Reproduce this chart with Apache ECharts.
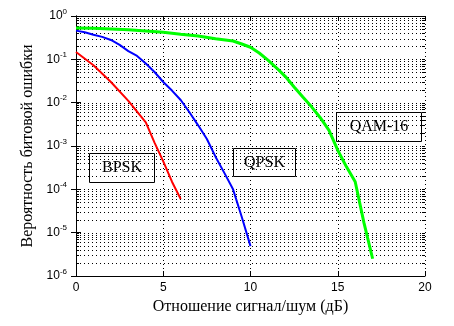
<!DOCTYPE html>
<html>
<head>
<meta charset="utf-8">
<script src="https://cdn.jsdelivr.net/npm/echarts@6/dist/echarts.min.js"></script>
<style>
  html, body { margin: 0; padding: 0; background: #fff; }
  #chart { width: 454px; height: 326px; }
</style>
</head>
<body>
<div id="chart"></div>
<script>
// SNR in dB
const snrBpsk = [0, 1, 2, 3, 4, 4.5, 5, 5.5, 6];
const berBpsk = [0.148, 0.073, 0.03, 0.011, 0.0035, 0.0012, 0.00044, 0.00015, 0.00006];

const snrQpsk = [0, 0.5, 1, 1.5, 2, 2.5, 3, 3.5, 4, 4.5, 5, 5.5, 6, 6.5, 7, 7.5, 8, 8.5, 9, 9.5, 10];
const berQpsk = [0.46, 0.42, 0.37, 0.33, 0.28, 0.215, 0.155, 0.12, 0.08, 0.051, 0.03, 0.019,
  0.0115, 0.006, 0.003, 0.00145, 0.00056, 0.00024, 0.0001, 0.000023, 0.0000049];

const snrQam = [0, 1, 2, 3, 4, 5, 6, 7, 8, 9, 9.5, 10, 10.5, 11, 11.5, 12, 12.5, 13, 13.5,
  14, 14.5, 15, 15.5, 16, 16.5, 17];
const berQam = [0.53, 0.52, 0.5, 0.48, 0.45, 0.42, 0.38, 0.345, 0.30, 0.265, 0.226, 0.19, 0.14,
  0.096, 0.063, 0.04, 0.023, 0.0135, 0.008, 0.0045, 0.0023, 0.0008, 0.00033, 0.00015,
  0.000017, 0.0000025];

const xTicks = [0, 5, 10, 15, 20];
const labels = ['BPSK', 'QPSK', 'QAM-16'];

// log grid values k x 10^e
const gridVals = [];
for (let e = -6; e < 0; e++) {
  for (let k = 1; k <= 9; k++) gridVals.push(k * Math.pow(10, e));
}
gridVals.push(1);

const pair = (xs, ys) => xs.map((x, i) => [x, ys[i]]);
const dotted = { color: '#000', width: 1, type: [1, 3] };
const serif = '"Liberation Serif", "DejaVu Serif", serif';
const sans = '"Liberation Sans", Arial, sans-serif';

const chart = echarts.init(document.getElementById('chart'), null, { renderer: 'canvas' });

function boxLabel(text, left, top, w, h) {
  return {
    type: 'group',
    left: left, top: top,
    children: [
      { type: 'rect', shape: { x: 0, y: 0, width: w, height: h },
        style: { fill: '#fff', stroke: '#000', lineWidth: 1 } },
      { type: 'text', x: w / 2, y: h / 2,
        style: { text: text, font: '16px ' + serif, fill: '#000', align: 'center', verticalAlign: 'middle' } }
    ]
  };
}

chart.setOption({
  animation: false,
  grid: { left: 76, right: 29, top: 16, bottom: 50, show: false },
  xAxis: [{
    type: 'value', min: xTicks[0], max: xTicks[xTicks.length - 1], interval: 5,
    name: 'Отношение сигнал/шум (дБ)', nameLocation: 'middle', nameGap: 23,
    nameTextStyle: { fontFamily: serif, fontSize: 16, color: '#000' },
    axisLine: { onZero: false, lineStyle: { color: '#000', width: 1 } },
    axisTick: { inside: true, length: 5, lineStyle: { color: '#000' } },
    axisLabel: { fontFamily: sans, fontSize: 12, color: '#000', margin: 6 },
    splitLine: { show: true, lineStyle: dotted }
  }, {
    type: 'value', position: 'top', min: xTicks[0], max: xTicks[xTicks.length - 1], interval: 5,
    axisLine: { show: true, onZero: false, lineStyle: { color: '#000', width: 1 } },
    axisTick: { inside: true, length: 5, lineStyle: { color: '#000' } },
    axisLabel: { show: false }, splitLine: { show: false }
  }],
  yAxis: [{
    type: 'log', logBase: 10, min: 1e-6, max: 1,
    name: 'Вероятность битовой ошибки', nameLocation: 'middle', nameGap: 33,
    nameTextStyle: { fontFamily: serif, fontSize: 16, color: '#000' },
    axisLine: { show: true, lineStyle: { color: '#000', width: 1 } },
    axisTick: { show: true, inside: true, length: 5, lineStyle: { color: '#000' } },
    axisLabel: {
      margin: 9, color: '#000',
      formatter: v => '{b|10}{s|' + Math.round(Math.log10(v)) + '}',
      rich: {
        b: { fontFamily: sans, fontSize: 12, color: '#000' },
        s: { fontFamily: sans, fontSize: 8, color: '#000', padding: [0, 0, 9, 0] }
      }
    },
    splitLine: { show: false }
  }, {
    type: 'log', logBase: 10, min: 1e-6, max: 1, position: 'right',
    axisLine: { show: true, lineStyle: { color: '#000', width: 1 } },
    axisTick: { show: true, inside: true, length: 5, lineStyle: { color: '#000' } },
    axisLabel: { show: false }, splitLine: { show: false }
  }],
  graphic: [
    boxLabel(labels[0], 89, 153, 65, 29),
    boxLabel(labels[1], 233, 148, 62, 28),
    boxLabel(labels[2], 336, 112, 85, 29)
  ],
  series: [
    {
      // dotted log grid lines plus minor ticks on both side axes
      type: 'custom', silent: true, data: gridVals.map(v => [0, v]), z: 1,
      renderItem: (params, api) => {
        const p = api.coord([0, api.value(1)]);
        const x0 = params.coordSys.x, x1 = x0 + params.coordSys.width;
        const y = Math.round(p[1]) + 0.5;
        const len = 3;
        return {
          type: 'group',
          children: [
            { type: 'line', shape: { x1: x0, y1: y, x2: x1, y2: y },
              style: { stroke: '#000', lineWidth: 1, lineDash: [1, 3] } },
            { type: 'line', shape: { x1: x0, y1: y, x2: x0 + len, y2: y }, style: { stroke: '#000', lineWidth: 1 } },
            { type: 'line', shape: { x1: x1 - len, y1: y, x2: x1, y2: y }, style: { stroke: '#000', lineWidth: 1 } }
          ]
        };
      }
    },
    { name: labels[0], type: 'line', data: pair(snrBpsk, berBpsk), symbol: 'none',
      lineStyle: { color: '#ff0000', width: 2 }, z: 5 },
    { name: labels[1], type: 'line', data: pair(snrQpsk, berQpsk), symbol: 'none',
      lineStyle: { color: '#0000ff', width: 2 }, z: 5 },
    { name: labels[2], type: 'line', data: pair(snrQam, berQam), symbol: 'none',
      lineStyle: { color: '#00ff00', width: 3 }, z: 5 }
  ]
});
</script>
</body>
</html>
